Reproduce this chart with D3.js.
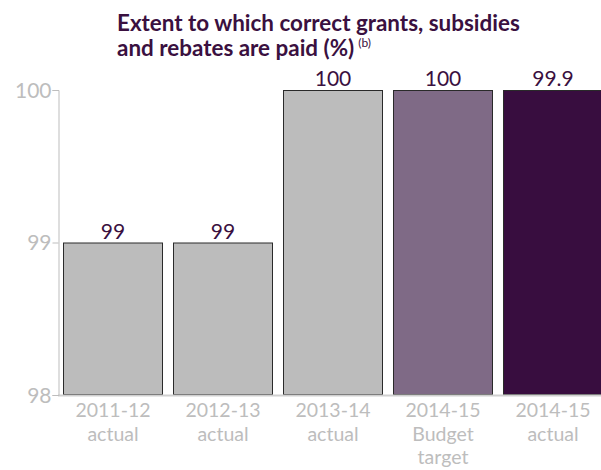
<!DOCTYPE html>
<html><head><meta charset="utf-8">
<script src="https://cdn.jsdelivr.net/npm/d3@7"></script>
<style>body{margin:0;background:#fff}svg{display:block}</style>
</head><body>
<script>
const categories = [["2011-12","actual"],["2012-13","actual"],["2013-14","actual"],["2014-15","Budget","target"],["2014-15","actual"]];
const values = [99, 99, 100, 100, 100];
const valueLabels = ["99", "99", "100", "100", "99.9"];
const colors = ["#bcbcbc","#bcbcbc","#bcbcbc","#7f6a86","#380d3f"];
const yTicks = [98, 99, 100];

const W = 601, H = 470;
const svg = d3.select("body").append("svg").attr("width", W).attr("height", H);
const font = "Lato, 'Open Sans', sans-serif";
const purple = "#3a1040";
const grey = "#bdbdbd";

// title
const title = svg.append("g").attr("font-family", font).attr("font-weight", "bold").attr("fill", purple);
const t1 = title.append("text").attr("x", 117).attr("y", 31).attr("font-size", 21).text("Extent to which correct grants, subsidies");
const s = 21 * 403 / t1.node().getComputedTextLength();
t1.attr("font-size", s);
const t2 = title.append("text").attr("x", 117).attr("y", 56).attr("font-size", s).text("and rebates are paid (%)");
svg.append("text").attr("font-family", font).attr("font-size", 12).attr("fill", purple)
  .attr("x", 117 + t2.node().getComputedTextLength() + 4).attr("y", 47).text("(b)");

const y = d3.scaleLinear().domain([98, 100]).range([395, 90]);
const x = d3.scaleBand().domain(d3.range(categories.length)).range([58, 608])
  .paddingInner(0.0909).paddingOuter(0.0455);

// bars
svg.selectAll("rect.bar").data(values).join("rect").attr("class","bar")
  .attr("x", (d,i) => x(i) + 0.5).attr("width", x.bandwidth() - 1)
  .attr("y", d => y(d) + 0.5).attr("height", d => y(98) - y(d) - 1)
  .attr("fill", (d,i) => colors[i]).attr("stroke", "#2a2a2a").attr("stroke-width", 1);

// baseline
svg.append("line").attr("x1", 58).attr("x2", W).attr("y1", y(98)+0.5).attr("y2", y(98)+0.5)
  .attr("stroke", "#d0d0d0").attr("stroke-width", 2);

// y axis
const ya = svg.append("g").attr("transform", "translate(58.5,0)")
  .call(d3.axisLeft(y).tickValues(yTicks).tickFormat(d3.format("d")).tickSize(6).tickPadding(1));
ya.select(".domain").attr("stroke", grey);
ya.selectAll(".tick line").attr("stroke", grey);
ya.selectAll(".tick text").attr("font-family", font).attr("font-size", 21).attr("fill", grey)
  .attr("dy", "0.35em");

// value labels
svg.selectAll("text.val").data(values).join("text").attr("class","val")
  .attr("x", (d,i) => x(i) + x.bandwidth()/2).attr("y", d => y(d) - 4)
  .attr("text-anchor", "middle").attr("font-family", font).attr("font-size", 21)
  .attr("fill", purple).text((d,i) => valueLabels[i]);

// x labels
const cat = svg.selectAll("g.cat").data(categories).join("g").attr("class","cat")
  .attr("font-family", font).attr("font-size", 19.5).attr("fill", grey).attr("text-anchor", "middle");
cat.each(function(lines, i){
  d3.select(this).selectAll("text").data(lines).join("text")
    .attr("x", x(i) + x.bandwidth()/2).attr("y", (l,j) => 417 + j*23.5).text(l => l);
});
</script>
</body></html>
